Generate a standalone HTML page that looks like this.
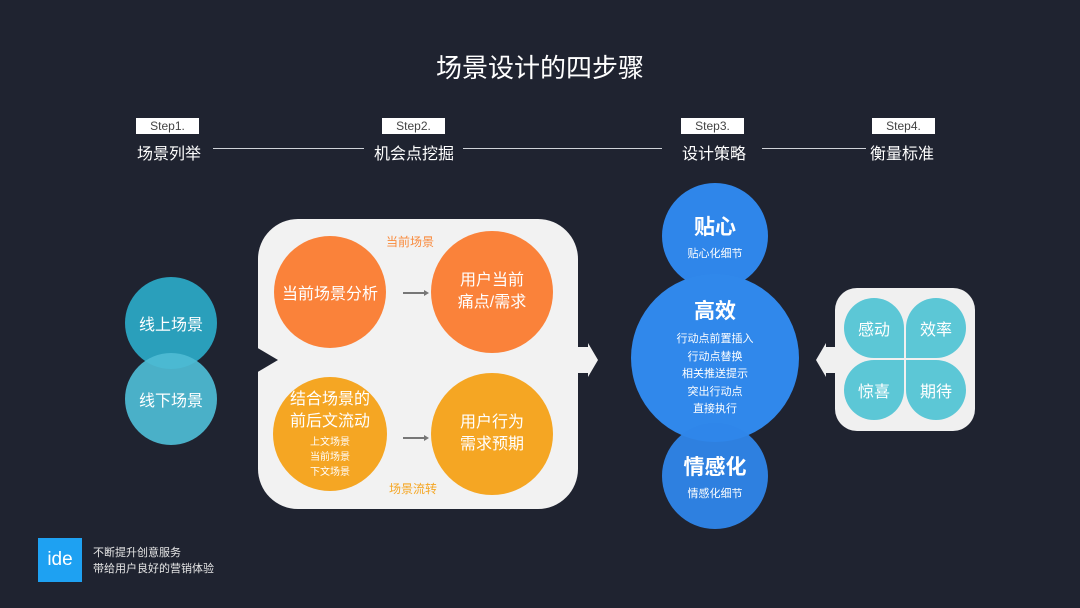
<!DOCTYPE html>
<html><head><meta charset="utf-8"><style>
body{margin:0;width:1080px;height:608px;background:#1f2330;position:relative;overflow:hidden;font-family:"Liberation Sans","Noto Sans CJK SC",sans-serif;color:#fff}
.a{position:absolute}
.step{position:absolute;top:118px;width:63px;height:16px;background:#fff;color:#444;font-size:12px;text-align:center;line-height:16px}
.lab{position:absolute;top:140px;font-size:16px;color:#fff;white-space:nowrap}
.ln{position:absolute;top:148px;height:1px;background:#cfd2d8}
.c{position:absolute;border-radius:50%;display:flex;flex-direction:column;align-items:center;justify-content:center;text-align:center}
.p{position:absolute;width:60px;height:60px;background:#5cc7d6;display:flex;align-items:center;justify-content:center;font-size:16px}
</style></head><body>
<div class="a" style="left:0;top:48px;width:1080px;text-align:center;font-size:26px">场景设计的四步骤</div>
<div class="step" style="left:136px">Step1.</div>
<div class="step" style="left:382px">Step2.</div>
<div class="step" style="left:681px">Step3.</div>
<div class="step" style="left:872px">Step4.</div>
<div class="lab" style="left:137px">场景列举</div>
<div class="lab" style="left:374px">机会点挖掘</div>
<div class="lab" style="left:682px">设计策略</div>
<div class="lab" style="left:870px">衡量标准</div>
<div class="ln" style="left:213px;width:151px"></div>
<div class="ln" style="left:463px;width:199px"></div>
<div class="ln" style="left:762px;width:104px"></div>

<div class="c" style="left:125px;top:277px;width:92px;height:92px;background:#2a9fbb;font-size:16px">线上场景</div>
<div class="c" style="left:125px;top:353px;width:92px;height:92px;background:rgba(78,187,212,0.93);font-size:16px">线下场景</div>

<div class="a" style="left:258px;top:219px;width:320px;height:290px;background:#f2f2f2;border-radius:40px"></div>
<svg class="a" style="left:0;top:0" width="1080" height="608">
<polygon points="256,347 278,360 256,373" fill="#1f2330"/>
<polygon points="576,347 588,347 588,343 598,360 588,377 588,373 576,373" fill="#f2f2f2"/>
<polygon points="837,347 826,347 826,343 816,360 826,377 826,373 837,373" fill="#f0f0f0"/>
<line x1="403" y1="293" x2="424" y2="293" stroke="#777" stroke-width="2"/>
<polygon points="424,290 429,293 424,296" fill="#777"/>
<line x1="403" y1="438" x2="424" y2="438" stroke="#777" stroke-width="2"/>
<polygon points="424,435 429,438 424,441" fill="#777"/>
</svg>
<div class="a" style="left:386px;top:233px;font-size:12px;color:#f98a3c">当前场景</div>
<div class="a" style="left:389px;top:480px;font-size:12px;color:#f5a623">场景流转</div>
<div class="c" style="left:274px;top:236px;width:112px;height:112px;background:#fa823a;font-size:16px">当前场景分析</div>
<div class="c" style="left:431px;top:231px;width:122px;height:122px;background:#fa823a;font-size:16px;line-height:22px">用户当前<br>痛点/需求</div>
<div class="c" style="left:273px;top:377px;width:114px;height:114px;background:#f5a623;font-size:16px;line-height:22px">结合场景的<br>前后文流动<span style="font-size:10px;line-height:15px;margin-top:2px">上文场景<br>当前场景<br>下文场景</span></div>
<div class="c" style="left:431px;top:373px;width:122px;height:122px;background:#f5a623;font-size:16px;line-height:22px">用户行为<br>需求预期</div>

<div class="c" style="left:662px;top:183px;width:106px;height:106px;background:#2f86ea"><span style="font-size:21px;font-weight:bold">贴心</span><span style="font-size:11px;margin-top:4px">贴心化细节</span></div>
<div class="c" style="left:631px;top:274px;width:168px;height:168px;background:#3088eb;font-size:11px;line-height:17.5px"><span style="font-size:21px;font-weight:bold;line-height:30px;margin-bottom:4px">高效</span>行动点前置插入<br>行动点替换<br>相关推送提示<br>突出行动点<br>直接执行</div>
<div class="c" style="left:662px;top:423px;width:106px;height:106px;background:rgba(47,134,234,0.95)"><span style="font-size:21px;font-weight:bold">情感化</span><span style="font-size:11px;margin-top:4px">情感化细节</span></div>

<div class="a" style="left:835px;top:288px;width:140px;height:143px;background:#f0f0f0;border-radius:22px"></div>
<div class="p" style="left:844px;top:298px;border-radius:30px 30px 0 30px">感动</div>
<div class="p" style="left:906px;top:298px;border-radius:30px 30px 30px 0">效率</div>
<div class="p" style="left:844px;top:360px;border-radius:30px 0 30px 30px">惊喜</div>
<div class="p" style="left:906px;top:360px;border-radius:0 30px 30px 30px">期待</div>

<div class="a" style="left:38px;top:538px;width:44px;height:44px;background:#1ea1f2;font-size:19px;line-height:44px;text-align:center">ide</div>
<div class="a" style="left:93px;top:545px;font-size:11px;line-height:16px;color:#e6e6e6">不断提升创意服务<br>带给用户良好的营销体验</div>
</body></html>
